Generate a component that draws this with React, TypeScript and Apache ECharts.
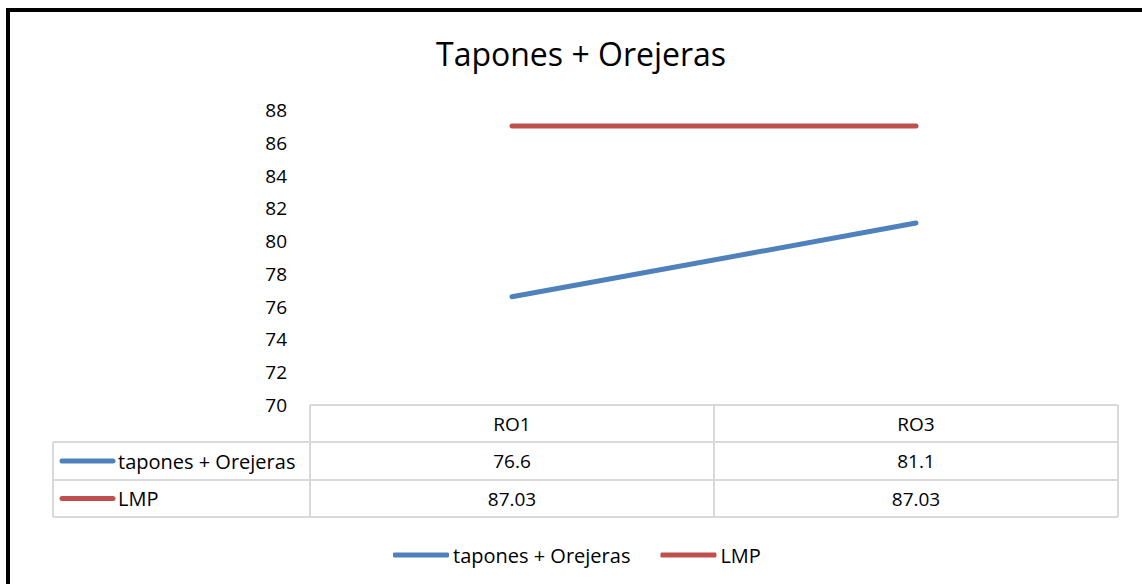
import React, { useEffect, useRef } from "react";
import * as echarts from "echarts";

const categories = ["RO1", "RO3"];
const seriesNames = ["tapones + Orejeras", "LMP"];
const taponesValues = [76.6, 81.1];
const lmpValues = [87.03, 87.03];
const colors = ["#4f81bd", "#c0504d"];
const titleText = "Tapones + Orejeras";

const FONT = "'Open Sans', 'Noto Sans', sans-serif";

export default function App() {
  const ref = useRef<HTMLDivElement>(null);
  useEffect(() => {
    document.body.style.margin = "0";
    const chart = echarts.init(ref.current!, null, { renderer: "svg" });
    const allSeries = [taponesValues, lmpValues];
    const gridL = 310, gridR = 1118, gridTop = 110, gridBottom = 405;
    const tableLeft = 53;
    const rowY = [405, 442, 480, 517];
    const grey = "#d9d9d9";
    const tableLines: any[] = [];
    tableLines.push({ type: "line", shape: { x1: gridL, y1: rowY[0], x2: gridR, y2: rowY[0] }, style: { stroke: grey, lineWidth: 2 } });
    for (let i = 1; i < rowY.length; i++) {
      tableLines.push({ type: "line", shape: { x1: tableLeft, y1: rowY[i], x2: gridR, y2: rowY[i] }, style: { stroke: grey, lineWidth: 2 } });
    }
    const colX = [gridL, (gridL + gridR) / 2, gridR];
    colX.forEach((x) => {
      tableLines.push({ type: "line", shape: { x1: x, y1: rowY[0], x2: x, y2: rowY[3] }, style: { stroke: grey, lineWidth: 2 } });
    });
    tableLines.push({ type: "line", shape: { x1: tableLeft, y1: rowY[1], x2: tableLeft, y2: rowY[3] }, style: { stroke: grey, lineWidth: 2 } });
    seriesNames.forEach((name, i) => {
      const cy = (rowY[i + 1] + rowY[i + 2]) / 2;
      tableLines.push({ type: "line", shape: { x1: 62, y1: cy, x2: 113, y2: cy }, style: { stroke: colors[i], lineWidth: 5, lineCap: "round" } });
      tableLines.push({ type: "text", x: 118, y: cy, style: { text: name, fill: "#000", font: `20px ${FONT}`, verticalAlign: "middle", align: "left" } });
    });

    chart.setOption({
      animation: false,
      backgroundColor: "#fff",
      color: colors,
      title: {
        text: titleText,
        left: 431,
        top: 32,
        textStyle: { fontFamily: FONT, fontSize: 32, fontWeight: "normal", color: "#000" },
      },
      grid: { left: gridL, right: 1142 - gridR, top: gridTop, bottom: 584 - gridBottom, containLabel: false },
      xAxis: {
        type: "category",
        data: categories,
        boundaryGap: true,
        axisLine: { show: false },
        axisTick: { show: false },
        splitLine: { show: false },
        axisLabel: {
          margin: 0,
          fontFamily: FONT,
          fontSize: 19,
          color: "#000",
          lineHeight: 37.5,
          formatter: (v: string, idx: number) => `${v}\n${taponesValues[idx]}\n${lmpValues[idx]}`,
        },
      },
      yAxis: {
        type: "value",
        min: 70,
        max: 88,
        interval: 2,
        axisLine: { show: false },
        axisTick: { show: false },
        splitLine: { show: false },
        axisLabel: { margin: 23, fontFamily: FONT, fontSize: 19, color: "#000" },
      },
      legend: {
        left: 388,
        top: 540,
        itemWidth: 56,
        itemHeight: 5,
        itemGap: 30,
        icon: "roundRect",
        textStyle: { fontFamily: FONT, fontSize: 20, color: "#000", padding: [0, 0, 0, -1] },
        data: seriesNames,
      },
      series: seriesNames.map((name, i) => ({
        name,
        type: "line",
        data: allSeries[i],
        symbol: "none",
        lineStyle: { width: 5, color: colors[i], cap: "round" },
        itemStyle: { color: colors[i] },
      })),
      graphic: [
        ...tableLines,
        { type: "rect", shape: { x: 8, y: 10, width: 1200, height: 700 }, style: { fill: "none", stroke: "#000", lineWidth: 4 }, silent: true },
      ],
    });
    return () => chart.dispose();
  }, []);
  return <div ref={ref} style={{ position: "absolute", left: 0, top: 0, width: 1142, height: 584 }} />;
}
